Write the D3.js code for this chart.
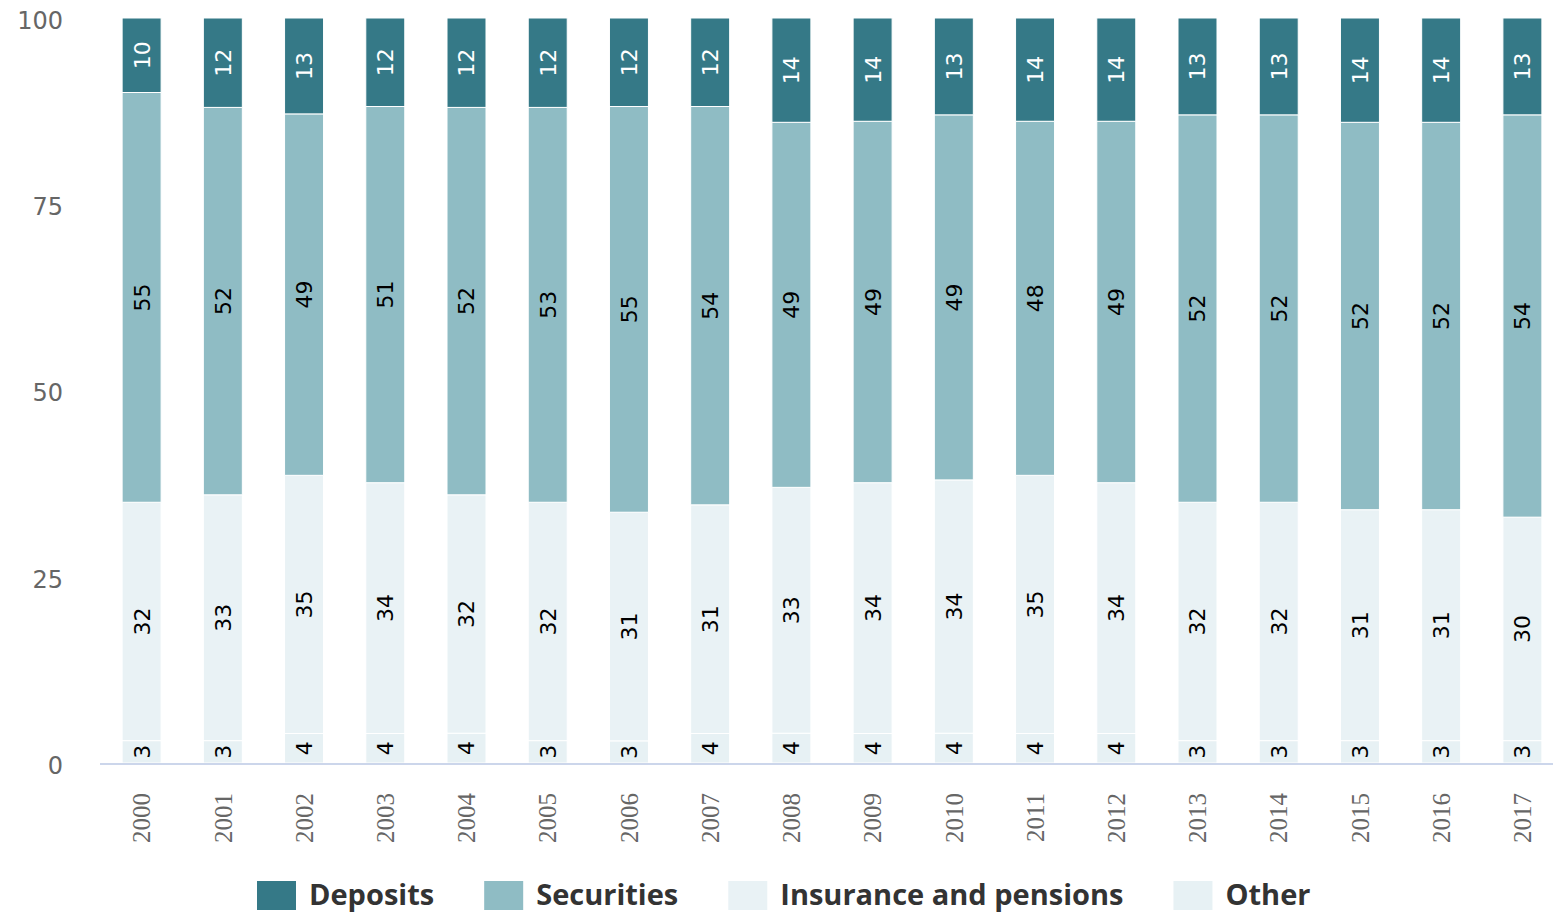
<!DOCTYPE html>
<html>
<head>
<meta charset="utf-8">
<script src="https://cdn.jsdelivr.net/npm/d3@7"></script>
<style>
  body { margin: 0; background: #fff; }
  svg { display: block; }
</style>
</head>
<body>
<svg id="chart" width="1553" height="914"></svg>
<script>
// ----- data -----
var years = ["2000","2001","2002","2003","2004","2005","2006","2007","2008",
             "2009","2010","2011","2012","2013","2014","2015","2016","2017"];
var deposits   = [10,12,13,12,12,12,12,12,14,14,13,14,14,13,13,14,14,13];
var securities = [55,52,49,51,52,53,55,54,49,49,49,48,49,52,52,52,52,54];
var insurance  = [32,33,35,34,32,32,31,31,33,34,34,35,34,32,32,31,31,30];
var other      = [3,3,4,4,4,3,3,4,4,4,4,4,4,3,3,3,3,3];
var yTicks = [0,25,50,75,100];

var seriesNames = ["Other","Insurance and pensions","Securities","Deposits"];
var legendNames = ["Deposits","Securities","Insurance and pensions","Other"];
var colors = {
  "Deposits": "#357987",
  "Securities": "#8fbcc4",
  "Insurance and pensions": "#e9f2f5",
  "Other": "#e7f1f4"
};
var labelColor = {
  "Deposits": "#ffffff",
  "Securities": "#000000",
  "Insurance and pensions": "#000000",
  "Other": "#000000"
};

var rows = years.map(function(y, i){
  return {year: y, "Deposits": deposits[i], "Securities": securities[i],
          "Insurance and pensions": insurance[i], "Other": other[i]};
});

var svg = d3.select("#chart");

var x = d3.scaleBand().domain(years).range([101, 1563])
  .paddingInner(0.52).paddingOuter(0.26);
var y = d3.scaleLinear().domain([0, 100]).range([763, 18]);

// percent stacking, bottom series first
var stack = d3.stack().keys(seriesNames).offset(d3.stackOffsetExpand);
var layers = stack(rows);

var g = svg.append("g");

layers.forEach(function(layer){
  var name = layer.key;
  var grp = g.append("g").attr("class", "series");
  grp.selectAll("rect").data(layer).enter().append("rect")
    .attr("x", function(d){ return x(d.data.year); })
    .attr("width", x.bandwidth())
    .attr("y", function(d){ return y(d[1]*100); })
    .attr("height", function(d){ return y(d[0]*100) - y(d[1]*100); })
    .attr("fill", colors[name])
    .attr("stroke", "#fff")
    .attr("stroke-width", 1);

  grp.selectAll("text").data(layer).enter().append("text")
    .attr("transform", function(d){
      var cx = x(d.data.year) + x.bandwidth()/2;
      var cy = (y(d[0]*100) + y(d[1]*100))/2;
      return "translate(" + cx + "," + cy + ") rotate(-90)";
    })
    .attr("text-anchor", "middle")
    .attr("dy", "0.36em")
    .style("font-family", "'DejaVu Sans', sans-serif")
    .style("font-size", "22px")
    .attr("fill", labelColor[name])
    .text(function(d){ return d.data[name]; });
});

// y axis labels
svg.append("g").selectAll("text").data(yTicks).enter().append("text")
  .attr("x", 63)
  .attr("y", function(d){ return y(d); })
  .attr("dy", "0.45em")
  .attr("text-anchor", "end")
  .style("font-family", "'DejaVu Sans', sans-serif")
  .style("font-size", "24px")
  .attr("fill", "#666")
  .text(function(d){ return d; });

// x axis line
svg.append("line")
  .attr("x1", 100).attr("x2", 1553)
  .attr("y1", 764).attr("y2", 764)
  .attr("stroke", "#ccd6eb").attr("stroke-width", 2);

// x axis labels
svg.append("g").selectAll("text").data(years).enter().append("text")
  .attr("transform", function(d){
    return "translate(" + (x(d) + x.bandwidth()/2) + ",793) rotate(-90)";
  })
  .attr("text-anchor", "end")
  .attr("dy", "0.35em")
  .style("font-family", "'Liberation Serif', serif")
  .style("font-size", "25px")
  .attr("fill", "#666")
  .text(function(d){ return d; });

// legend
var legend = svg.append("g");
var lx = 257;
legendNames.forEach(function(name){
  legend.append("rect")
    .attr("x", lx).attr("y", 881)
    .attr("width", 39).attr("height", 29)
    .attr("fill", colors[name]);
  var t = legend.append("text")
    .attr("x", lx + 52).attr("y", 905)
    .style("font-family", "'Open Sans', sans-serif")
    .style("font-weight", "bold")
    .style("font-size", "29px")
    .attr("fill", "#333")
    .text(name);
  lx = lx + 52 + t.node().getComputedTextLength() + 50;
});
</script>
</body>
</html>
